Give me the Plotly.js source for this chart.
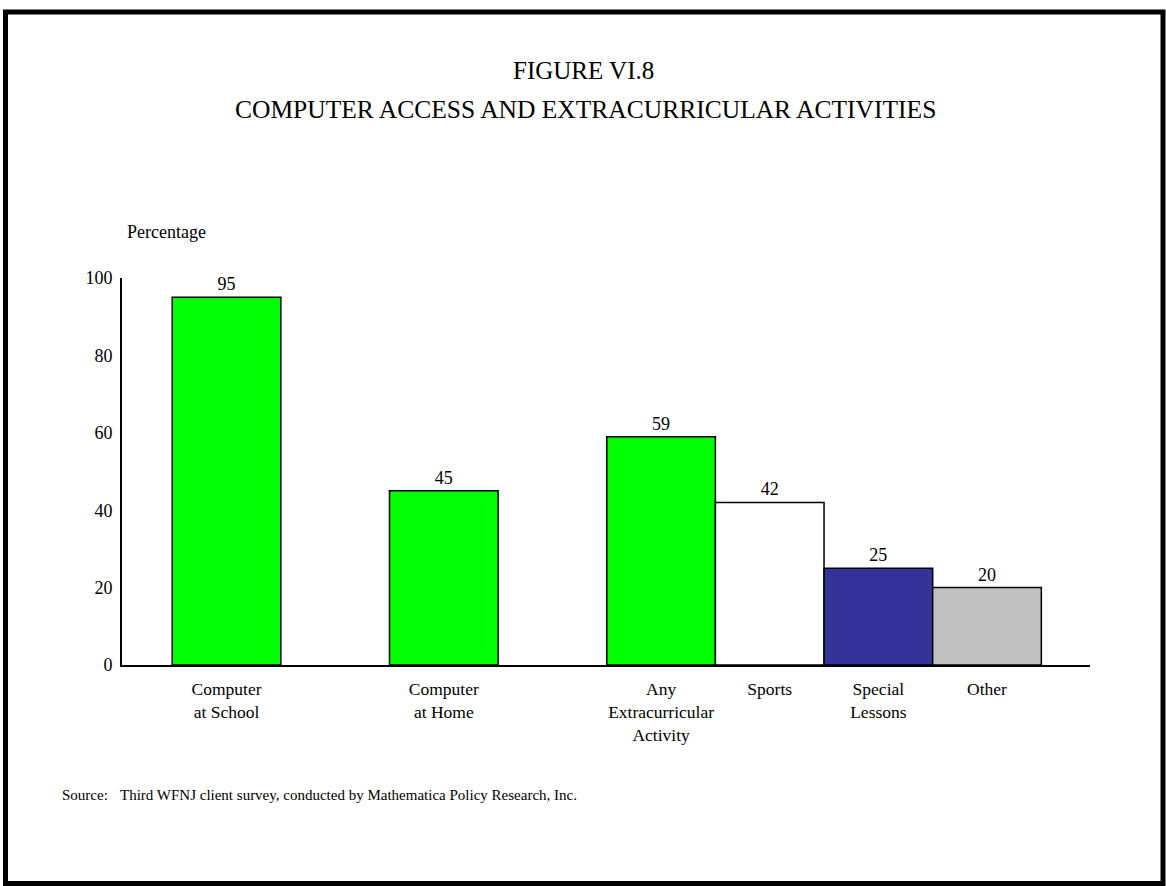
<!DOCTYPE html>
<html>
<head>
<meta charset="utf-8">
<script src="https://cdn.plot.ly/plotly-3.0.1.min.js"></script>
<style>
  html, body { margin: 0; padding: 0; background: #ffffff; }
  #chart { width: 1166px; height: 886px; }
</style>
</head>
<body>
<div id="chart"></div>
<script>
// Survey results: share of children (percent)
const categories = [
  "Computer<br>at School",
  "Computer<br>at Home",
  "Any<br>Extracurricular<br>Activity",
  "Sports",
  "Special<br>Lessons",
  "Other"
];
const values = [95, 45, 59, 42, 25, 20];
const barColors = ["#00ff00", "#00ff00", "#00ff00", "#ffffff", "#333399", "#c0c0c0"];
const yTicks = [0, 20, 40, 60, 80, 100];

// Horizontal slots: the two computer bars stand alone, the activity bars touch
const slots = [0, 2, 4, 5, 6, 7];

// Page geometry (px)
const W = 1166, H = 886;
const M = { l: 122, r: 76, t: 278, b: 221 };
const plotW = W - M.l - M.r, plotH = H - M.t - M.b;
const px = x => (x - M.l) / plotW;           // page x -> paper x
const py = y => (H - M.b - y) / plotH;       // page y -> paper y

const serif = "Liberation Serif, Times New Roman, serif";

const trace = {
  type: "bar",
  x: slots,
  y: values,
  width: 1,
  marker: { color: barColors, line: { color: "#000000", width: 1.5 } },
  text: values.map(v => String(v)),
  textposition: "outside",
  textfont: { family: serif, size: 18, color: "#000000" },
  cliponaxis: false,
  hoverinfo: "skip"
};

const layout = {
  width: W,
  height: H,
  margin: M,
  paper_bgcolor: "#ffffff",
  plot_bgcolor: "#ffffff",
  showlegend: false,
  font: { family: serif, color: "#000000" },
  xaxis: {
    range: [-0.962, 7.948],
    tickmode: "array",
    tickvals: slots,
    ticktext: categories,
    ticks: "",
    ticklabelstandoff: 7,
    tickfont: { family: serif, size: 17.5, color: "#000000" },
    showgrid: false,
    zeroline: false,
    showline: true,
    linecolor: "#000000",
    linewidth: 2
  },
  yaxis: {
    range: [0, 100],
    tickmode: "array",
    tickvals: yTicks,
    ticks: "",
    ticklabelstandoff: 4,
    tickfont: { family: serif, size: 18, color: "#000000" },
    showgrid: false,
    zeroline: false,
    showline: true,
    linecolor: "#000000",
    linewidth: 2
  },
  annotations: [
    { text: "FIGURE VI.8", xref: "paper", yref: "paper", x: px(583), y: py(71),
      xanchor: "center", yanchor: "middle", showarrow: false,
      font: { family: serif, size: 25 } },
    { text: "COMPUTER ACCESS AND EXTRACURRICULAR ACTIVITIES", xref: "paper", yref: "paper",
      x: px(585), y: py(110), xanchor: "center", yanchor: "middle", showarrow: false,
      font: { family: serif, size: 25.5 } },
    { text: "Percentage", xref: "paper", yref: "paper", x: px(125), y: py(232),
      xanchor: "left", yanchor: "middle", showarrow: false,
      font: { family: serif, size: 18 } },
    { text: "Source:", xref: "paper", yref: "paper", x: px(60), y: py(795),
      xanchor: "left", yanchor: "middle", showarrow: false,
      font: { family: serif, size: 15 } },
    { text: "Third WFNJ client survey, conducted by Mathematica Policy Research, Inc.",
      xref: "paper", yref: "paper", x: px(118), y: py(795),
      xanchor: "left", yanchor: "middle", showarrow: false,
      font: { family: serif, size: 15 } }
  ],
  shapes: [
    // page frame
    { type: "rect", xref: "paper", yref: "paper",
      x0: px(5.5), x1: px(1163), y0: py(883.5), y1: py(12),
      line: { color: "#000000", width: 5 }, fillcolor: "rgba(0,0,0,0)" }
  ]
};

Plotly.newPlot("chart", [trace], layout, { displayModeBar: false, staticPlot: true });
</script>
</body>
</html>
